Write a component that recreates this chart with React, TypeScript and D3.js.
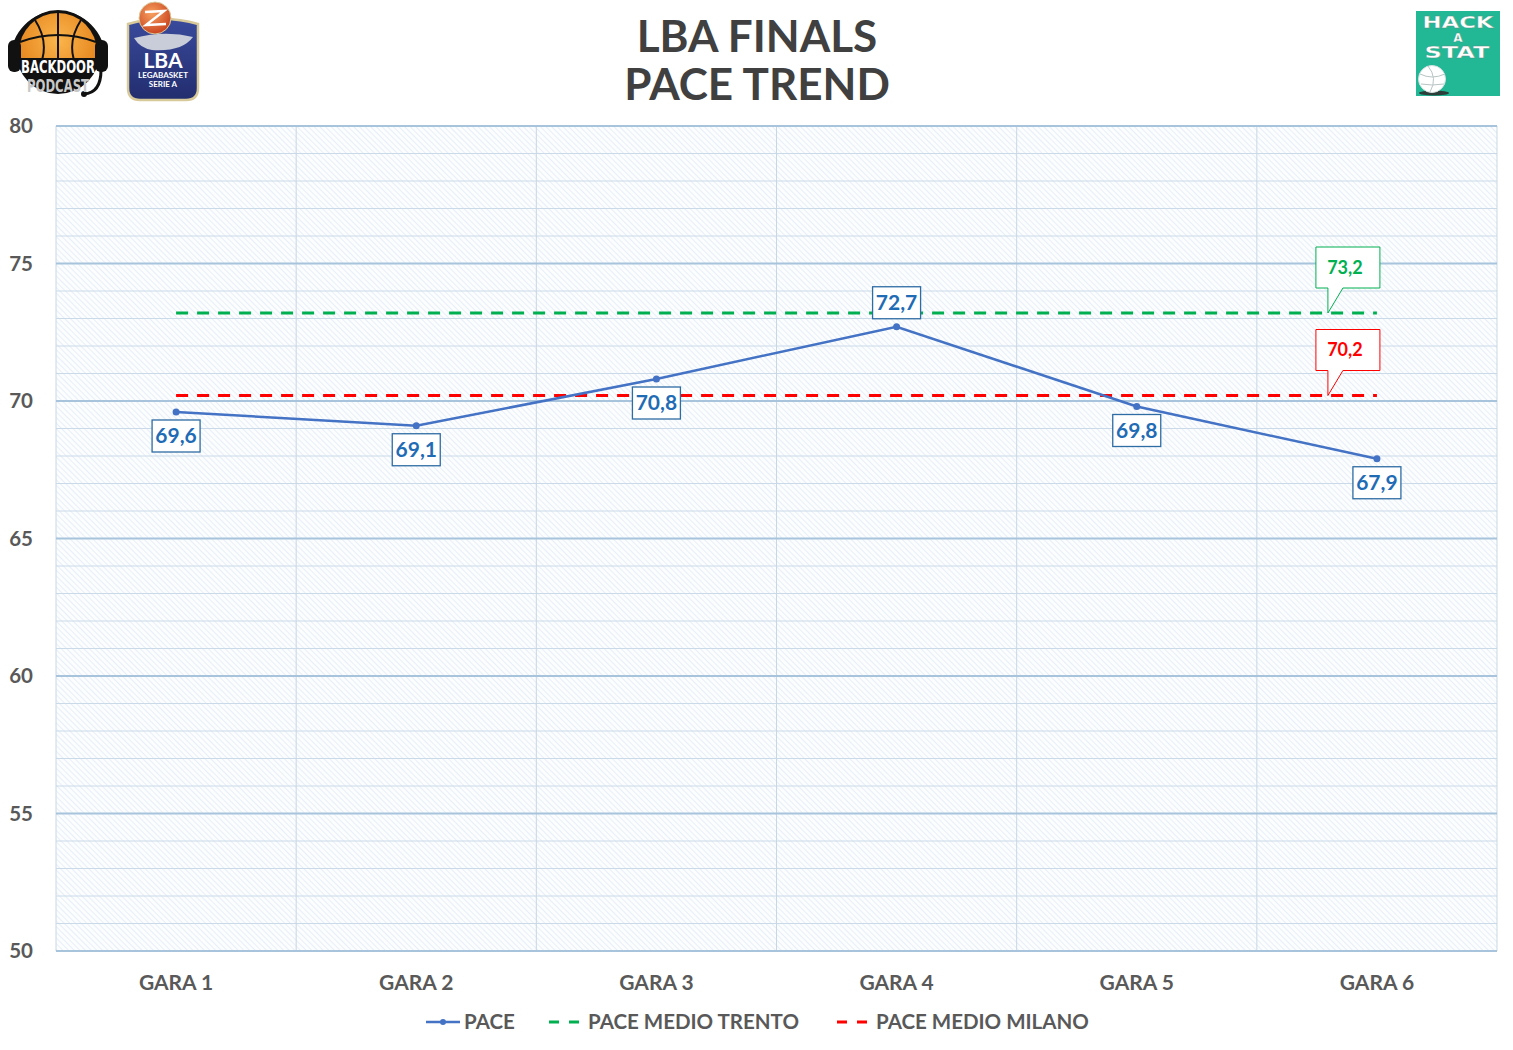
import React from "react";
import * as d3 from "d3";

const categories = ["GARA 1", "GARA 2", "GARA 3", "GARA 4", "GARA 5", "GARA 6"];
const paceValues = [69.6, 69.1, 70.8, 72.7, 69.8, 67.9];
const labelPlacement = ["below", "below", "below", "above", "below", "below"];
const trentoAvg = 73.2;
const milanoAvg = 70.2;
const yTicks = [50, 55, 60, 65, 70, 75, 80];
const yMinorStep = 1;
const titleLines = ["LBA FINALS", "PACE TREND"];
const legendItems = [
  { key: "pace", label: "PACE" },
  { key: "trento", label: "PACE MEDIO TRENTO" },
  { key: "milano", label: "PACE MEDIO MILANO" },
];

const W = 1513;
const H = 1050;
const M = { left: 56, right: 1497, top: 126, bottom: 951 };
const FONT = "Lato, 'Open Sans', sans-serif";
const BLUE = "#4472c4";
const GREEN = "#00b050";
const RED = "#ff0000";
const GREY = "#595959";

const fmt = (v: number) => v.toFixed(1).replace(".", ",");

function BackdoorLogo() {
  return (
    <g>
      <defs>
        <radialGradient id="ballG" cx="0.5" cy="0.35" r="0.7">
          <stop offset="0" stopColor="#fbb54c" />
          <stop offset="1" stopColor="#e07812" />
        </radialGradient>
        <clipPath id="topClip">
          <rect x={0} y={0} width={120} height={58} />
        </clipPath>
      </defs>
      <path d="M13,58 A45,45 0 0 1 103,58" fill="none" stroke="#111" strokeWidth={4} />
      <circle cx={58} cy={52} r={42} fill="#111" />
      <g clipPath="url(#topClip)">
        <circle cx={58} cy={52} r={39} fill="url(#ballG)" />
        <path d="M20,42 Q58,28 96,42" fill="none" stroke="#111" strokeWidth={2} />
        <path d="M58,13 L58,60" stroke="#111" strokeWidth={2} />
        <path d="M35,20 Q48,40 42,60" fill="none" stroke="#111" strokeWidth={2} />
        <path d="M81,20 Q68,40 74,60" fill="none" stroke="#111" strokeWidth={2} />
      </g>
      <rect x={8} y={40} width={13} height={32} rx={6} fill="#111" />
      <rect x={95} y={40} width={13} height={32} rx={6} fill="#111" />
      <path d="M101,70 Q101,93 84,94" fill="none" stroke="#111" strokeWidth={3} />
      <circle cx={84} cy={94} r={3} fill="#111" />
      <text x={58} y={73} textAnchor="middle" fill="#fff" fontFamily="'DejaVu Sans Condensed', 'DejaVu Sans', sans-serif" fontWeight="bold" fontSize={17} textLength={74} lengthAdjust="spacingAndGlyphs">BACKDOOR</text>
      <text x={58} y={92} textAnchor="middle" fill="#c8c8c8" fontFamily="'DejaVu Sans Condensed', 'DejaVu Sans', sans-serif" fontWeight="bold" fontSize={17} textLength={62} lengthAdjust="spacingAndGlyphs">PODCAST</text>
    </g>
  );
}

function LbaLogo() {
  return (
    <g>
      <defs>
        <linearGradient id="shieldG" x1="0" y1="0" x2="0" y2="1">
          <stop offset="0" stopColor="#3a4a9c" />
          <stop offset="1" stopColor="#222d6e" />
        </linearGradient>
        <radialGradient id="lbaBall" cx="0.4" cy="0.35" r="0.7">
          <stop offset="0" stopColor="#f7a060" />
          <stop offset="1" stopColor="#c8401c" />
        </radialGradient>
      </defs>
      <path d="M128,24 Q163,14 198,24 L198,88 Q198,100 186,100 L140,100 Q128,100 128,88 Z" fill="url(#shieldG)" stroke="#d8c99a" strokeWidth={2.5} />
      <path d="M134,38 Q165,30 193,37 Q182,52 152,50 Q140,48 134,38 Z" fill="#c9cdd9" />
      <circle cx={155} cy={18} r={16} fill="url(#lbaBall)" stroke="#d8c99a" strokeWidth={1} />
      <path d="M145,12 L164,11 L146,25 L166,24" fill="none" stroke="#fff" strokeWidth={2.5} />
      <text x={163} y={68} textAnchor="middle" fill="#fff" fontFamily={FONT} fontWeight="bold" fontSize={21}>LBA</text>
      <text x={163} y={78} textAnchor="middle" fill="#fff" fontFamily={FONT} fontWeight="bold" fontSize={8}>LEGABASKET</text>
      <text x={163} y={87} textAnchor="middle" fill="#fff" fontFamily={FONT} fontWeight="bold" fontSize={8}>SERIE A</text>
    </g>
  );
}

function HackLogo() {
  const f = "'DejaVu Sans', sans-serif";
  return (
    <g>
      <rect x={1416} y={11} width={84} height={85} fill="#22b795" />
      <text x={1458} y={28} textAnchor="middle" fill="#fff" stroke="#5a8f80" strokeWidth={0.3} fontFamily={f} fontWeight="bold" fontSize={16} textLength={71} lengthAdjust="spacingAndGlyphs">HACK</text>
      <text x={1458} y={42} textAnchor="middle" fill="#fff" stroke="#5a8f80" strokeWidth={0.3} fontFamily={f} fontWeight="bold" fontSize={12}>A</text>
      <text x={1457} y={58} textAnchor="middle" fill="#fff" stroke="#5a8f80" strokeWidth={0.3} fontFamily={f} fontWeight="bold" fontSize={16} textLength={65} lengthAdjust="spacingAndGlyphs">STAT</text>
      <ellipse cx={1434} cy={93} rx={15} ry={2.5} fill="#2c3e3a" />
      <circle cx={1432} cy={79} r={13.5} fill="#fff" stroke="#d8e0e0" strokeWidth={1} />
      <path d="M1420,74 Q1432,80 1445,74" fill="none" stroke="#b8c4c4" strokeWidth={1} />
      <path d="M1428,66 Q1438,78 1430,92" fill="none" stroke="#b8c4c4" strokeWidth={1} />
      <path d="M1421,84 Q1432,86 1444,84" fill="none" stroke="#b8c4c4" strokeWidth={1} />
    </g>
  );
}

export default function App() {
  const x = d3.scaleBand<string>().domain(categories).range([M.left, M.right]);
  const y = d3.scaleLinear().domain([50, 80]).range([M.bottom, M.top]);
  const bw = x.bandwidth();
  const cx = (c: string) => (x(c) as number) + bw / 2;

  const minorTicks = d3.range(50, 80 + 1e-9, yMinorStep).filter((v) => !yTicks.includes(v));
  const linePath = d3
    .line<number>()
    .x((_, i) => cx(categories[i]))
    .y((d) => y(d))(paceValues) as string;

  const xStart = cx(categories[0]);
  const xEnd = cx(categories[categories.length - 1]);

  const callout = (value: number, color: string) => {
    const ty = y(value);
    const left = xEnd - 61;
    const w = 64;
    const h = 41;
    const top = ty - 66;
    const bottom = top + h;
    const tipX = xEnd - 49;
    const d = `M${left},${top} H${left + w} V${bottom} H${tipX + 15} L${tipX},${ty} L${tipX},${bottom} H${left} Z`;
    return (
      <g key={color}>
        <path d={d} fill="#fff" stroke={color} strokeWidth={1} />
        <text x={left + 29} y={top + h / 2 + 6} textAnchor="middle" fill={color} fontFamily={FONT} fontWeight="bold" fontSize={18}>
          {fmt(value)}
        </text>
      </g>
    );
  };

  const legendX = [426, 549, 837];

  return (
    <svg width={W} height={H} style={{ position: "absolute", left: 0, top: 0, background: "#fff" }}>
      <defs>
        <pattern id="hatch" width={4} height={4} patternUnits="userSpaceOnUse" patternTransform="rotate(-45)">
          <rect width={4} height={4} fill="#fbfdff" />
          <line x1={0} y1={0} x2={0} y2={4} stroke="#dbe7f1" strokeWidth={1.2} />
        </pattern>
      </defs>

      <BackdoorLogo />
      <LbaLogo />
      <HackLogo />

      <text x={757} y={52} textAnchor="middle" fill="#404040" fontFamily={FONT} fontWeight="bold" fontSize={44}>
        {titleLines.map((t, i) => (
          <tspan key={t} x={757} dy={i === 0 ? 0 : 48}>
            {t}
          </tspan>
        ))}
      </text>

      <rect x={M.left} y={M.top} width={M.right - M.left} height={M.bottom - M.top} fill="url(#hatch)" />

      {minorTicks.map((v) => (
        <line key={"mi" + v} x1={M.left} x2={M.right} y1={y(v)} y2={y(v)} stroke="#cbdae8" strokeWidth={1} />
      ))}
      {categories.map((c) => (
        <line key={"v" + c} x1={x(c) as number} x2={x(c) as number} y1={M.top} y2={M.bottom} stroke="#c9d7e4" strokeWidth={1} />
      ))}
      <line x1={M.right} x2={M.right} y1={M.top} y2={M.bottom} stroke="#c9d7e4" strokeWidth={1} />
      {yTicks.map((v) => (
        <line key={"ma" + v} x1={M.left} x2={M.right} y1={y(v)} y2={y(v)} stroke="#a8c3dc" strokeWidth={2} />
      ))}

      {yTicks.map((v) => (
        <text key={"yt" + v} x={33} y={y(v) + 7} textAnchor="end" fill={GREY} fontFamily={FONT} fontWeight="bold" fontSize={20.5}>
          {v}
        </text>
      ))}
      {categories.map((c) => (
        <text key={"xt" + c} x={cx(c)} y={990} textAnchor="middle" fill={GREY} fontFamily={FONT} fontWeight="bold" fontSize={21}>
          {c}
        </text>
      ))}

      <line x1={xStart} x2={xEnd} y1={y(trentoAvg)} y2={y(trentoAvg)} stroke={GREEN} strokeWidth={3} strokeDasharray="12 9" />
      <line x1={xStart} x2={xEnd} y1={y(milanoAvg)} y2={y(milanoAvg)} stroke={RED} strokeWidth={3} strokeDasharray="12 9" />

      <path d={linePath} fill="none" stroke={BLUE} strokeWidth={2.5} />
      {paceValues.map((v, i) => (
        <circle key={"p" + i} cx={cx(categories[i])} cy={y(v)} r={3.5} fill={BLUE} />
      ))}

      {paceValues.map((v, i) => {
        const px = cx(categories[i]);
        const py = y(v) + (labelPlacement[i] === "above" ? -24 : 24);
        return (
          <g key={"l" + i}>
            <rect x={px - 24} y={py - 16} width={48} height={32} fill="#fff" stroke="#2e6ca4" strokeWidth={1.3} />
            <text x={px} y={py + 7} textAnchor="middle" fill="#1f6cb5" fontFamily={FONT} fontWeight="bold" fontSize={21}>
              {fmt(v)}
            </text>
          </g>
        );
      })}

      {callout(trentoAvg, GREEN)}
      {callout(milanoAvg, RED)}

      {legendItems.map((it, i) => {
        const lx = legendX[i];
        const ly = 1022;
        let sym;
        if (it.key === "pace") {
          sym = (
            <g>
              <line x1={lx} x2={lx + 34} y1={ly} y2={ly} stroke={BLUE} strokeWidth={2.5} />
              <circle cx={lx + 17} cy={ly} r={3} fill={BLUE} />
            </g>
          );
        } else {
          const col = it.key === "trento" ? GREEN : RED;
          sym = <line x1={lx} x2={lx + 31} y1={ly} y2={ly} stroke={col} strokeWidth={3} strokeDasharray="10 10" />;
        }
        const tx = lx + (it.key === "pace" ? 38 : 39);
        return (
          <g key={it.key}>
            {sym}
            <text x={tx} y={ly + 7} fill={GREY} fontFamily={FONT} fontWeight="bold" fontSize={20.5}>
              {it.label}
            </text>
          </g>
        );
      })}
    </svg>
  );
}
